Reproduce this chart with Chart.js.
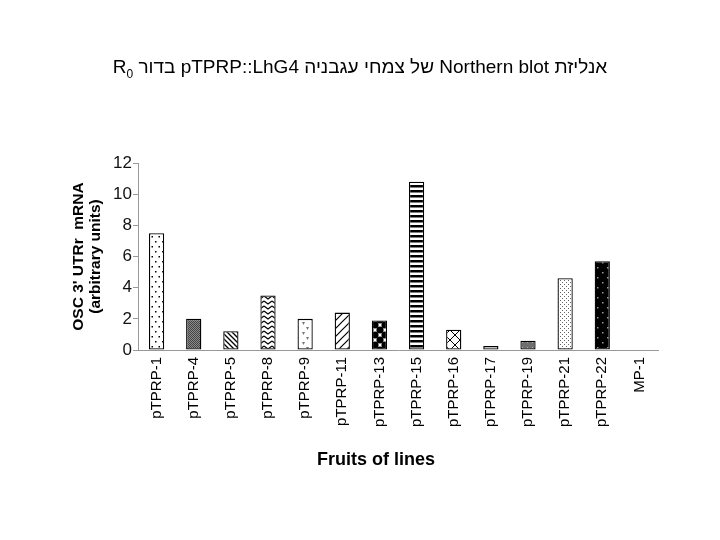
<!DOCTYPE html>
<html>
<head>
<meta charset="utf-8">
<script src="https://cdn.jsdelivr.net/npm/chart.js@4/dist/chart.umd.min.js"></script>
<style>
  body { margin: 0; background: #fff; }
  #wrap { position: relative; width: 720px; height: 540px; }
  #title {
    position: absolute; left: 0; top: 56px; width: 720px;
    text-align: center; font: 19px "Liberation Sans", Arial, sans-serif; color: #000;
  }
  #title sub { font-size: 12px; }
</style>
</head>
<body>
<div id="wrap">
  <canvas id="chart" width="720" height="540"></canvas>
  <div id="title" dir="rtl">אנליזת Northern blot של צמחי עגבניה pTPRP::LhG4 בדור R<sub>0</sub></div>
</div>
<script>
// Data
const categories = ['pTPRP-1', 'pTPRP-4', 'pTPRP-5', 'pTPRP-8', 'pTPRP-9', 'pTPRP-11', 'pTPRP-13',
    'pTPRP-15', 'pTPRP-16', 'pTPRP-17', 'pTPRP-19', 'pTPRP-21', 'pTPRP-22', 'MP-1'];
const mrnaLevels = [7.5, 2.0, 1.2, 3.5, 2.0, 2.4, 1.9, 10.8, 1.3, 0.25, 0.6, 4.6, 5.7, 0];
const yTickValues = [0, 2, 4, 6, 8, 10, 12];
const yTitle = ["OSC 3' UTRr  mRNA", '(arbitrary units)'];
const xTitle = 'Fruits of lines';

const canvas = document.getElementById('chart');
const ctx = canvas.getContext('2d');

// Build a repeating fill pattern from a small tile
function tile(w, h, bg, draw) {
    const c = document.createElement('canvas');
    c.width = w; c.height = h;
    const g = c.getContext('2d');
    g.fillStyle = bg;
    g.fillRect(0, 0, w, h);
    if (draw) draw(g);
    return ctx.createPattern(c, 'repeat');
}

const fills = [
    // sparse dots
    tile(7, 10, '#fff', g => { g.fillStyle = '#000'; g.fillRect(1, 1, 1.5, 1.5); g.fillRect(4.5, 6, 1.5, 1.5); }),
    // fine dark grey
    tile(2, 2, '#8a8a8a', g => { g.fillStyle = '#444'; g.fillRect(0, 0, 1, 1); g.fillRect(1, 1, 1, 1); }),
    // back diagonal lines
    tile(5, 5, '#fff', g => {
        g.strokeStyle = '#000'; g.lineWidth = 1.3;
        g.beginPath(); g.moveTo(-1, -1); g.lineTo(6, 6); g.moveTo(-1, 4); g.lineTo(1, 6); g.moveTo(4, -1); g.lineTo(6, 1); g.stroke();
    }),
    // zigzag
    tile(8, 5, '#fff', g => {
        g.strokeStyle = '#000'; g.lineWidth = 1.2;
        g.beginPath(); g.moveTo(0, 1); g.lineTo(4, 4); g.lineTo(8, 1); g.stroke();
    }),
    // little triangles
    tile(10, 10, '#fff', g => {
        g.fillStyle = '#777';
        g.beginPath(); g.moveTo(2, 2); g.lineTo(5, 2); g.lineTo(3.5, 5); g.closePath(); g.fill();
        g.beginPath(); g.moveTo(6, 7); g.lineTo(9, 7); g.lineTo(7.5, 10); g.closePath(); g.fill();
    }),
    // wide forward diagonals
    tile(8, 8, '#fff', g => {
        g.strokeStyle = '#000'; g.lineWidth = 1.2;
        g.beginPath(); g.moveTo(-1, 9); g.lineTo(9, -1); g.moveTo(-1, 1); g.lineTo(1, -1); g.moveTo(7, 9); g.lineTo(9, 7); g.stroke();
    }),
    // black blobs
    tile(10, 10, '#fff', g => {
        g.fillStyle = '#000';
        [[0, 0], [10, 0], [0, 10], [10, 10], [5, 5]].forEach(([x, y]) => {
            g.beginPath(); g.arc(x, y, 3.6, 0, Math.PI * 2); g.fill();
        });
    }),
    // horizontal stripes
    tile(4, 5, '#fff', g => { g.fillStyle = '#000'; g.fillRect(0, 0, 4, 2.5); }),
    // diamond lattice
    tile(10, 10, '#fff', g => {
        g.strokeStyle = '#000'; g.lineWidth = 1;
        g.beginPath(); g.moveTo(0, 0); g.lineTo(10, 10); g.moveTo(10, 0); g.lineTo(0, 10); g.stroke();
    }),
    // plain white
    '#fff',
    // grey with light dots
    tile(5, 5, '#6f6f6f', g => { g.fillStyle = '#aaa'; g.fillRect(2, 2, 1, 1); }),
    // dense stipple
    tile(4, 4, '#fff', g => { g.fillStyle = '#666'; g.fillRect(0, 0, 1, 1); g.fillRect(2, 2, 1, 1); }),
    // black with sparse grey dots
    tile(10, 10, '#000', g => { g.fillStyle = '#999'; g.fillRect(2, 2, 1.5, 1.5); g.fillRect(7, 7, 1.5, 1.5); }),
    '#fff'
];

// Draw x-axis title slightly left of centre, as in the original
const xTitlePlugin = {
    id: 'xTitle',
    afterDraw(chart) {
        const a = chart.chartArea;
        const c = chart.ctx;
        c.save();
        c.font = 'bold 18px "Liberation Sans", Arial, sans-serif';
        c.fillStyle = '#000';
        c.textAlign = 'center';
        c.textBaseline = 'middle';
        c.fillText(xTitle, (a.left + a.right) / 2 - 22, a.bottom + 110);
        c.restore();
    }
};

const font = '"Liberation Sans", Arial, sans-serif';

new Chart(ctx, {
    type: 'bar',
    data: {
        labels: categories,
        datasets: [{
            data: mrnaLevels,
            backgroundColor: fills,
            borderColor: '#000',
            borderWidth: 1.3,
            borderSkipped: false,
            barPercentage: 0.41,
            categoryPercentage: 1
        }]
    },
    options: {
        responsive: false,
        animation: false,
        layout: { padding: { top: 163, right: 62, bottom: 70, left: 0 } },
        plugins: { legend: { display: false }, tooltip: { enabled: false } },
        scales: {
            x: {
                grid: { display: true, drawOnChartArea: false, drawTicks: false, color: 'rgba(0,0,0,0)' },
                border: { display: true, color: '#999', width: 1 },
                ticks: {
                    color: '#000', font: { family: font, size: 15 },
                    minRotation: 90, maxRotation: 90, padding: 7, autoSkip: false
                },
                afterFit: s => { s.height = 120; }
            },
            y: {
                min: 0, max: 12,
                afterBuildTicks: s => { s.ticks = yTickValues.map(v => ({ value: v })); },
                grid: { display: true, drawOnChartArea: false, drawTicks: true, tickLength: 5, color: '#999' },
                border: { display: true, color: '#999', width: 1 },
                ticks: { color: '#111', font: { family: font, size: 17 }, padding: 1 },
                title: {
                    display: true, text: yTitle, color: '#000',
                    font: { family: font, size: 15.5, weight: 'bold', lineHeight: 1.05 },
                    padding: { top: 71, bottom: 0 }
                },
                afterFit: s => { s.width = 138; }
            }
        }
    },
    plugins: [xTitlePlugin]
});
</script>
</body>
</html>
